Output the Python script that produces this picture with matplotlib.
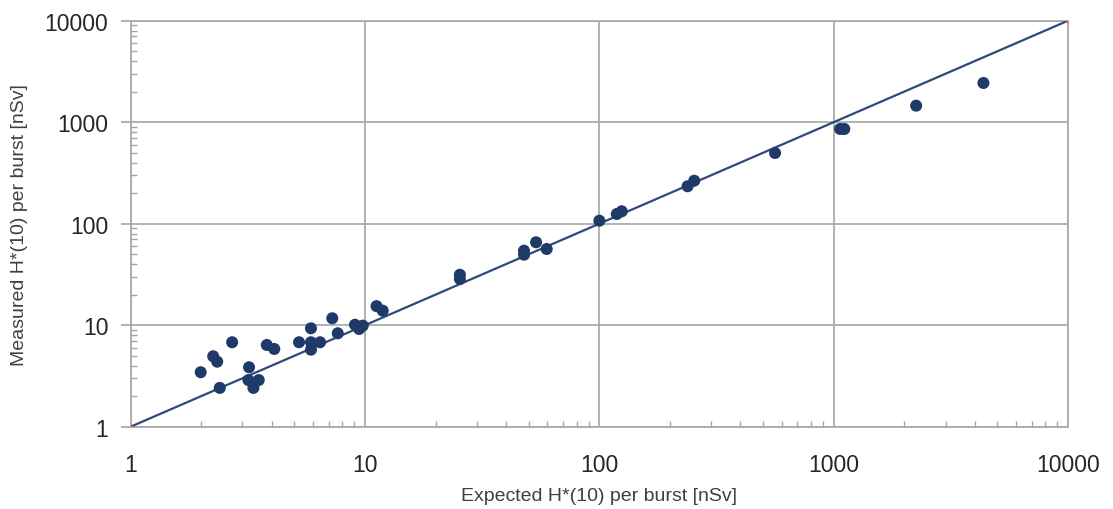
import matplotlib.pyplot as plt
from matplotlib.ticker import LogLocator, FixedLocator, NullFormatter

plt.rcParams['font.family'] = ['Liberation Sans', 'DejaVu Sans']

# expected vs measured H*(10) per burst [nSv]
expected = [1.99, 2.25, 2.34, 2.71, 2.40, 3.20, 3.18, 3.34, 3.52, 3.81,
            4.10, 5.23, 5.88, 5.88, 5.88, 6.43, 7.25, 7.65, 9.06, 9.44,
            9.78, 11.2, 11.9, 25.4, 25.4, 47.7, 47.7, 53.7, 59.6, 100,
            118.7, 124.6, 238, 254, 562, 1065, 1110, 2248, 4355]
measured = [3.44, 4.94, 4.37, 6.79, 2.41, 3.85, 2.88, 2.41, 2.88, 6.38,
            5.83, 6.79, 9.32, 6.79, 5.74, 6.79, 11.7, 8.32, 10.1, 9.18,
            9.89, 15.4, 13.9, 31.4, 28.5, 54.2, 49.5, 65.6, 56.3, 107,
            124.6, 132.5, 233.7, 265, 497, 857, 857, 1454, 2433]

# identity line y = x
ident = [1, 10000]
decades = [1, 10, 100, 1000, 10000]
decade_labels = ['1', '10', '100', '1000', '10000']

fig = plt.figure(figsize=(11.13, 5.10), dpi=100)
ax = fig.add_axes([0.1174, 0.1614, 0.8422, 0.7961])

ax.plot(ident, ident, color='#2E4A7D', linewidth=1.6, zorder=3)
ax.plot(ident, ident, linestyle='none', marker='s', markersize=2,
        color='#ED7D31', zorder=4)
ax.scatter(expected, measured, s=75, color='#1F3A68', edgecolors='none',
           zorder=5, clip_on=False)

ax.set_xscale('log')
ax.set_yscale('log')
ax.set_xlim(1, 10000)
ax.set_ylim(1, 10000)

ax.xaxis.set_major_locator(FixedLocator(decades))
ax.yaxis.set_major_locator(FixedLocator(decades))
ax.set_xticklabels(decade_labels)
ax.set_yticklabels(decade_labels)
ax.xaxis.set_minor_locator(LogLocator(base=10, subs=range(2, 10)))
ax.yaxis.set_minor_locator(LogLocator(base=10, subs=range(2, 10)))
ax.xaxis.set_minor_formatter(NullFormatter())
ax.yaxis.set_minor_formatter(NullFormatter())

ax.grid(True, which='major', color='#A6A6A6', linewidth=1.2, zorder=0)
ax.set_axisbelow(True)
for sp in ax.spines.values():
    sp.set_color('#A6A6A6')
    sp.set_linewidth(1.2)

ax.tick_params(axis='x', which='major', length=0, pad=19,
               labelsize=16.5, labelcolor='#262626')
ax.tick_params(axis='y', which='major', direction='out', length=7,
               width=1.2, color='#A6A6A6', pad=9,
               labelsize=16.5, labelcolor='#262626')
ax.tick_params(axis='both', which='minor', direction='in', length=4.5,
               width=1.0, color='#A6A6A6')

ax.set_xlabel('Expected H*(10) per burst [nSv]', fontsize=14,
              color='#404040', labelpad=8)
ax.set_ylabel('Measured H*(10) per burst [nSv]', fontsize=14,
              color='#404040', labelpad=12)

fig.savefig('out.png', dpi=100)
